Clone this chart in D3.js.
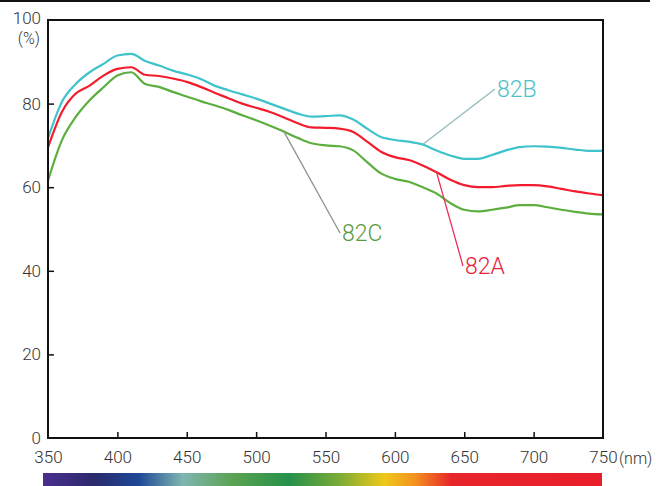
<!DOCTYPE html>
<html>
<head>
<meta charset="utf-8">
<script src="https://cdn.jsdelivr.net/npm/d3@7"></script>
<style>
  body { margin: 0; background: #fff; }
  text { font-family: Roboto, "Liberation Sans", Arial, sans-serif; font-weight: 300; }
</style>
</head>
<body>
<script>
// wavelengths (nm) and transmittance (%)
var wavelengths = [350,360,370,380,390,400,410,420,430,440,450,460,470,480,490,500,510,520,530,540,550,560,570,580,590,600,610,620,630,640,650,660,670,680,690,700,710,720,730,740,750];
var s82B = [71.7,80.4,84.7,87.5,89.5,91.5,91.9,90.2,89.1,87.9,87.0,85.9,84.3,83.2,82.2,81.2,80.0,78.8,77.6,76.9,77.0,77.2,76.2,74.0,72.0,71.3,70.9,70.2,68.8,67.6,66.8,66.8,67.7,68.8,69.6,69.8,69.7,69.4,69.0,68.7,68.7];
var s82A = [69.5,78.0,82.4,84.3,86.7,88.3,88.7,86.9,86.6,86.0,85.2,84.0,82.6,81.3,80.0,79.0,78.0,76.7,75.3,74.3,74.2,74.0,73.2,70.9,68.5,67.2,66.5,65.2,63.6,61.8,60.5,60.0,60.0,60.3,60.5,60.5,60.2,59.6,59.0,58.5,58.1];
var s82C = [61.6,71.2,76.8,80.8,83.9,86.7,87.5,84.7,84.0,82.8,81.7,80.6,79.6,78.5,77.2,76.0,74.7,73.3,71.8,70.5,70.0,69.8,68.8,66.0,63.3,62.0,61.3,60.0,58.5,56.2,54.6,54.2,54.6,55.1,55.7,55.7,55.2,54.6,54.1,53.7,53.5];
var xTicks = [350,400,450,500,550,600,650,700,750];
var yTicks = [0,20,40,60,80,100];

var series = [
  {name: "82B", values: s82B, color: "#3fc3cb", labelColor: "#4cc2c6", leaderColor: "#8fbcbc", from: 620, at: [495, 89]},
  {name: "82A", values: s82A, color: "#f21c2c", labelColor: "#e8203a", leaderColor: "#ea2d5a", from: 630, at: [463, 266]},
  {name: "82C", values: s82C, color: "#5cae3e", labelColor: "#5a9a40", leaderColor: "#8c9488", from: 520, at: [340, 233]}
];

var W = 656, H = 486;
var svg = d3.select("body").append("svg").attr("width", W).attr("height", H);

var x = d3.scaleLinear().domain([350, 750]).range([48, 603]);
var y = d3.scaleLinear().domain([0, 100]).range([438, 20]);

// black rule across the top
svg.append("line").attr("x1", 0).attr("x2", 650).attr("y1", 1).attr("y2", 1)
  .attr("stroke", "#111").attr("stroke-width", 2);

// curves
var line = d3.line()
  .x(function(d, i) { return x(wavelengths[i]); })
  .y(function(d) { return y(d); })
  .curve(d3.curveMonotoneX);

series.forEach(function(s) {
  svg.append("path").datum(s.values)
    .attr("fill", "none").attr("stroke", s.color).attr("stroke-width", 2.2)
    .attr("d", line);
});

// leader lines and labels
series.forEach(function(s) {
  var i = wavelengths.indexOf(s.from);
  svg.append("line")
    .attr("x1", x(s.from)).attr("y1", y(s.values[i]))
    .attr("x2", s.at[0]).attr("y2", s.at[1])
    .attr("stroke", s.leaderColor).attr("stroke-width", 1.3);
  svg.append("text")
    .attr("x", s.at[0] + 2).attr("y", s.at[1] + 8)
    .attr("font-size", 23).attr("fill", s.labelColor)
    .text(s.name);
});

// frame
svg.append("rect").attr("x", 48).attr("y", 20).attr("width", 555).attr("height", 418)
  .attr("fill", "none").attr("stroke", "#111").attr("stroke-width", 2);

// axes
var gx = svg.append("g").attr("transform", "translate(0,438)")
  .call(d3.axisBottom(x).tickValues(xTicks).tickSizeInner(-6).tickSizeOuter(0).tickPadding(13));
gx.select(".domain").remove();
gx.selectAll("line").attr("stroke", "#111").attr("stroke-width", 1.5);
gx.selectAll("text").attr("font-size", 17).attr("fill", "#333")
  .attr("font-family", null);
gx.selectAll(".tick").filter(function(d) { return d === 750 || d === 350; }).select("line").remove();

var gy = svg.append("g").attr("transform", "translate(48,0)")
  .call(d3.axisLeft(y).tickValues(yTicks).tickSizeInner(-6).tickSizeOuter(0).tickPadding(7));
gy.select(".domain").remove();
gy.selectAll("line").attr("stroke", "#111").attr("stroke-width", 1.5);
gy.selectAll("text").attr("font-size", 17).attr("fill", "#333")
  .attr("font-family", null);
gy.selectAll(".tick").filter(function(d) { return d === 0 || d === 100; }).select("line").remove();
gy.selectAll(".tick").filter(function(d) { return d === 100; }).attr("transform", "translate(0,19)");

svg.append("text").attr("x", 619).attr("y", 464).attr("font-size", 16).attr("fill", "#333").text("(nm)");
svg.append("text").attr("x", 40).attr("y", 44).attr("text-anchor", "end")
  .attr("font-size", 16).attr("fill", "#333").text("(%)");

// spectrum bar
var grad = svg.append("defs").append("linearGradient").attr("id", "spec");
var stops = [
  [0, "#4a2f8e"], [0.09, "#2b2a6c"], [0.17, "#1d4796"], [0.25, "#7fb6b0"],
  [0.34, "#5aa352"], [0.44, "#26904a"], [0.53, "#7bab36"], [0.61, "#eec91a"],
  [0.665, "#f3921e"], [0.73, "#e8252a"], [1, "#e81e2a"]
];
stops.forEach(function(s) {
  grad.append("stop").attr("offset", s[0]).attr("stop-color", s[1]);
});
svg.append("rect").attr("x", 43).attr("y", 473).attr("width", 559).attr("height", 13)
  .attr("fill", "url(#spec)");
</script>
</body>
</html>
